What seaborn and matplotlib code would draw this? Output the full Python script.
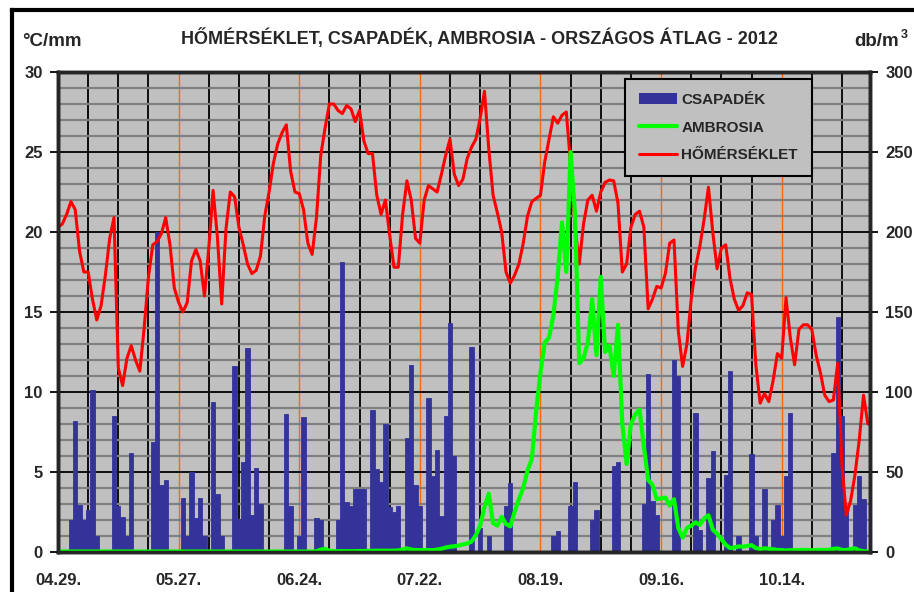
import numpy as np
import pandas as pd
import matplotlib
matplotlib.use('Agg')
import matplotlib.pyplot as plt
import seaborn as sns
from matplotlib.patches import Patch
from matplotlib.lines import Line2D
from matplotlib.ticker import MultipleLocator

# napi átlagok 2012.04.29-től (nap sorszáma = index)
TEMP = [20.3, 20.5, 21.1, 21.9, 21.4, 18.8, 17.5, 17.5, 15.8, 14.5,
        15.4, 17.3, 19.6, 20.9, 11.5, 10.4, 12.1, 12.9, 12.0, 11.3,
        14.0, 17.2, 19.2, 19.4, 19.9, 20.9, 19.2, 16.5, 15.6, 15.0,
        15.6, 18.2, 18.9, 18.2, 16.0, 19.0, 22.6, 19.7, 15.5, 20.2,
        22.5, 22.2, 20.3, 19.2, 18.0, 17.4, 17.6, 18.5, 21.0, 22.5,
        24.3, 25.5, 26.2, 26.7, 23.8, 22.5, 22.4, 21.4, 19.3, 18.6,
        20.9, 24.8, 26.5, 28.0, 28.0, 27.6, 27.4, 27.9, 27.7, 26.9,
        27.6, 25.7, 24.9, 24.9, 22.3, 21.1, 22.0, 19.8, 17.8, 17.8,
        21.1, 23.2, 22.0, 19.6, 19.3, 22.0, 22.9, 22.7, 22.5, 23.6,
        24.8, 25.8, 23.6, 22.9, 23.3, 24.6, 25.3, 25.8, 27.1, 28.8,
        25.2, 22.3, 21.2, 20.0, 17.5, 16.8, 17.3, 18.0, 19.3, 21.0,
        21.9, 22.1, 22.3, 24.4, 25.8, 27.2, 26.8, 27.3, 27.5, 24.2,
        20.4, 18.0, 20.5, 22.0, 22.3, 21.3, 22.5, 23.1, 23.25, 23.2,
        21.8, 17.5, 18.0, 20.3, 21.1, 21.3, 20.3, 15.2, 15.8, 16.6,
        16.5, 17.4, 19.3, 19.5, 13.8, 11.6, 13.0, 15.8, 17.8, 19.1,
        20.8, 22.8, 20.0, 17.7, 19.0, 19.2, 17.1, 15.8, 15.1, 15.4,
        16.2, 16.1, 11.7, 9.3, 9.9, 9.4, 10.7, 12.4, 12.1, 15.9,
        13.4, 11.7, 13.9, 14.2, 14.2, 13.9, 12.3, 11.2, 9.8, 9.4,
        9.5, 11.8, 5.4, 2.3, 3.2, 4.8, 7.0, 9.8, 8.0]

AMBR = [0.3, 0.3, 0.3, 0.3, 0.3, 0.3, 0.3, 0.3, 0.3, 0.3,
        0.3, 0.3, 0.3, 0.3, 0.3, 0.3, 0.3, 0.3, 0.3, 0.3,
        0.3, 0.3, 0.3, 0.3, 0.3, 0.3, 0.3, 0.3, 0.3, 0.3,
        0.3, 0.3, 0.3, 0.3, 0.3, 0.3, 0.3, 0.3, 0.3, 0.3,
        0.3, 0.3, 0.3, 0.3, 0.3, 0.3, 0.3, 0.3, 0.3, 0.3,
        0.3, 0.3, 0.3, 0.3, 0.3, 0.3, 0.3, 0.3, 0.3, 0.3,
        0.5, 1.5, 2.0, 0.8, 0.5, 0.5, 0.5, 0.5, 0.5, 0.5,
        0.6, 0.6, 0.7, 0.7, 0.8, 0.8, 0.8, 0.8, 0.8, 1.0,
        1.5, 2.3, 1.5, 1.2, 1.2, 1.2, 1.2, 1.2, 1.5, 2.0,
        2.8, 3.3, 3.6, 4.0, 4.8, 5.3, 6.5, 10.5, 16.5, 28.0,
        36.5, 18.0, 16.5, 22.0, 17.5, 16.0, 25.0, 33.0, 40.0, 51.0,
        58.0, 88.0, 112.0, 131.0, 134.0, 148.0, 172.0, 206.0, 175.0, 250.0,
        212.0, 118.0, 121.0, 131.0, 158.0, 123.0, 172.0, 125.0, 129.0, 110.0,
        142.0, 80.0, 55.0, 80.0, 86.0, 89.0, 66.0, 45.0, 42.0, 33.0,
        33.5, 34.0, 29.0, 33.0, 15.0, 9.0, 15.0, 16.5, 18.5, 17.0,
        21.0, 23.0, 14.0, 11.5, 8.0, 4.5, 2.5, 2.8, 3.5, 3.3,
        3.8, 4.3, 2.5, 1.8, 2.3, 2.0, 1.7, 1.3, 1.2, 0.9,
        1.2, 1.1, 1.2, 1.3, 1.2, 1.1, 1.2, 1.3, 1.2, 1.4,
        2.0, 2.2, 1.3, 1.2, 1.8, 2.3, 1.0, 0.5, 0.3]

RAIN_DAY = [3, 4, 5, 6, 7, 8, 9, 13, 14, 15, 16, 17, 22, 23, 24, 25,
            29, 30, 31, 32, 33, 34, 36, 37, 38, 41, 42, 43, 44, 45, 46, 47,
            53, 54, 56, 57, 60, 61, 65, 66, 67, 68, 69, 70, 71,
            73, 74, 75, 76, 77, 78, 79, 81, 82, 83, 84,
            86, 87, 88, 89, 90, 91, 92, 96, 98, 100, 104, 105,
            115, 116, 119, 120, 124, 125, 129, 130, 136, 137, 138, 139,
            143, 144, 148, 149, 151, 152, 155, 156, 158, 161, 162, 164,
            166, 167, 168, 169, 170, 180, 181, 182, 183, 185, 186, 187]
RAIN_MM = [2.0, 8.2, 2.95, 2.0, 2.65, 10.15, 1.0, 8.5, 2.9, 2.2, 1.0, 6.2, 6.9, 20.0, 4.2, 4.5,
           3.4, 1.0, 5.0, 2.1, 3.4, 1.0, 9.4, 3.6, 1.0, 11.6, 2.05, 5.65, 12.75, 2.3, 5.25, 3.0,
           8.65, 2.85, 1.0, 8.45, 2.1, 2.0, 2.0, 18.1, 3.1, 2.9, 3.95, 3.95, 3.95,
           8.9, 5.2, 4.4, 8.0, 2.8, 2.5, 2.9, 7.1, 11.7, 4.2, 2.9,
           9.6, 4.75, 6.4, 2.25, 8.5, 14.3, 6.0, 12.8, 1.5, 1.0, 2.9, 4.3,
           1.0, 1.3, 2.9, 4.4, 2.0, 2.6, 5.4, 5.6, 3.0, 11.1, 3.2, 2.3,
           12.0, 11.0, 8.7, 1.35, 4.6, 6.3, 4.8, 11.3, 1.0, 6.1, 1.0, 3.95,
           2.0, 2.95, 1.0, 4.75, 8.7, 6.2, 14.7, 8.5, 2.9, 2.95, 4.75, 3.3]

TICK_LABELS = ['04.29.', '05.27.', '06.24.', '07.22.', '08.19.', '09.16.', '10.14.']
TITLE = 'HŐMÉRSÉKLET, CSAPADÉK, AMBROSIA - ORSZÁGOS ÁTLAG - 2012'

days = np.arange(len(TEMP))
rain = pd.DataFrame({'nap': RAIN_DAY, 'mm': RAIN_MM})

sns.set_style('white')
plt.rcParams['font.family'] = ['Liberation Sans', 'DejaVu Sans']
plt.rcParams['font.weight'] = 'bold'

fig = plt.figure(figsize=(9.14, 5.92), dpi=100)
ax = fig.add_axes([58 / 914, 40 / 592, 812 / 914, 480 / 592])
ax.set_facecolor('#C0C0C0')
ax.set_axisbelow(True)

sns.barplot(data=rain, x='nap', y='mm', native_scale=True, color='#333399',
            saturation=1, width=1.0, errorbar=None, linewidth=0.6,
            edgecolor='#333399', ax=ax)
sns.lineplot(x=days, y=TEMP, color='#FF0000', lw=2.2, ax=ax)

ax.set_xlim(0, 188.5)
ax.set_ylim(0, 30)
ax.xaxis.set_major_locator(MultipleLocator(28))
ax.xaxis.set_minor_locator(MultipleLocator(7))
ax.yaxis.set_major_locator(MultipleLocator(5))
ax.yaxis.set_minor_locator(MultipleLocator(1))
ax.set_xticks(np.arange(len(TICK_LABELS)) * 28)
ax.set_xticklabels(TICK_LABELS)
ax.grid(axis='y', which='minor', color='#808080', lw=1.6)
ax.grid(axis='y', which='major', color='black', lw=1.3)
ax.grid(axis='x', which='minor', color='black', lw=1.3)
ax.grid(axis='x', which='major', color='#FF6600', lw=1.0)
ax.tick_params(axis='x', which='both', direction='out', length=6, width=1.3,
               color='black', labelsize=12, pad=9)
ax.tick_params(axis='y', which='major', direction='out', length=6, width=1.3,
               color='black', labelsize=12, pad=5)
ax.tick_params(axis='y', which='minor', length=0)
ax.set_xlabel('')
ax.set_ylabel('')
for s in ax.spines.values():
    s.set_linewidth(2.5)
    s.set_color('black')

ax2 = ax.twinx()
sns.lineplot(x=days, y=AMBR, color='#00FF00', lw=3, ax=ax2)
ax2.set_ylim(0, 300)
ax2.yaxis.set_major_locator(MultipleLocator(50))
ax2.tick_params(axis='y', direction='out', length=6, width=1.3, color='black',
                labelsize=12, pad=5)
ax2.set_ylabel('')
for s in ax2.spines.values():
    s.set_linewidth(2.5)

handles = [Patch(facecolor='#333399', edgecolor='none'),
           Line2D([], [], color='#00FF00', lw=3),
           Line2D([], [], color='#FF0000', lw=2.2)]
leg = ax2.legend(handles, ['CSAPADÉK', 'AMBROSIA', 'HŐMÉRSÉKLET'],
                 loc='upper left', bbox_to_anchor=(0.698, 0.985),
                 prop={'size': 11, 'weight': 'bold'}, frameon=True, fancybox=False,
                 facecolor='#C0C0C0', edgecolor='black', framealpha=1,
                 handlelength=2.5, handleheight=0.75, handletextpad=0.3,
                 labelspacing=0.9, borderpad=0.9, borderaxespad=0)
leg.get_frame().set_linewidth(1.5)

fig.text(22 / 914, 1 - 42 / 592, '°C/mm', ha='left', va='center', fontsize=13.5, fontweight='bold')
fig.text(479 / 914, 1 - 38 / 592, TITLE, ha='center', va='center', fontsize=13,
         fontweight='bold')
fig.text(854 / 914, 1 - 42 / 592, 'db/m', ha='left', va='center', fontsize=13.5, fontweight='bold')
fig.text(901 / 914, 1 - 35 / 592, '3', ha='left', va='center', fontsize=9, fontweight='bold')

# keret (a kép bal és felső szélén)
fig.add_artist(Line2D([12 / 914, 12 / 914], [0, 1 - 9.5 / 592], color='black', lw=3,
                      transform=fig.transFigure, solid_capstyle='projecting'))
fig.add_artist(Line2D([12 / 914, 1], [1 - 9.5 / 592, 1 - 9.5 / 592], color='black', lw=3,
                      transform=fig.transFigure, solid_capstyle='projecting'))

fig.savefig('out.png', dpi=100)
